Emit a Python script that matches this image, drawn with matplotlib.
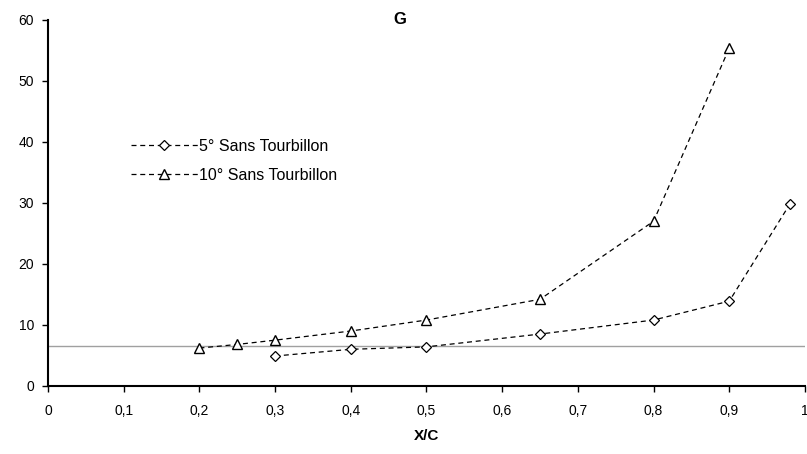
import matplotlib.pyplot as plt

plt.rcParams['font.family'] = ['Liberation Sans', 'DejaVu Sans']

x5 = [0.3, 0.4, 0.5, 0.65, 0.8, 0.9, 0.98]
y5 = [4.9, 6.0, 6.4, 8.5, 10.8, 13.9, 29.8]
x10 = [0.2, 0.25, 0.3, 0.4, 0.5, 0.65, 0.8, 0.9]
y10 = [6.2, 6.8, 7.5, 9.0, 10.8, 14.2, 27.0, 55.4]
ref_level = 6.5
xticks = [0, 0.1, 0.2, 0.3, 0.4, 0.5, 0.6, 0.7, 0.8, 0.9, 1]
xlabels = ["0", "0,1", "0,2", "0,3", "0,4", "0,5", "0,6", "0,7", "0,8", "0,9", "1"]
yticks = [0, 10, 20, 30, 40, 50, 60]

fig = plt.figure(figsize=(8.07, 4.54), dpi=100)
ax = fig.add_axes([0.0595, 0.150, 0.938, 0.806])

ax.axhline(ref_level, color="#a0a0a0", lw=1.0, zorder=1)
ax.plot(x5, y5, ls=(0, (4, 3)), color="black", lw=0.9, marker="D", ms=5,
        mfc="white", mec="black", mew=0.9, label="5° Sans Tourbillon", zorder=3)
ax.plot(x10, y10, ls=(0, (4, 3)), color="black", lw=0.9, marker="^", ms=7,
        mfc="white", mec="black", mew=1.0, label="10° Sans Tourbillon", zorder=3)

ax.set_xlim(0, 1)
ax.set_ylim(0, 60)
ax.set_xticks(xticks)
ax.set_xticklabels(xlabels)
ax.set_yticks(yticks)
ax.tick_params(direction="out", length=4, width=1, labelsize=10)
ax.tick_params(axis="x", pad=9)
ax.tick_params(axis="y", pad=6)
ax.spines["top"].set_visible(False)
ax.spines["right"].set_visible(False)
ax.spines["left"].set_linewidth(1.5)
ax.spines["bottom"].set_linewidth(1.5)

ax.set_xlabel("X/C", fontsize=11, fontweight="bold", labelpad=8)
ax.text(0.465, 1.0, "G", transform=ax.transAxes, ha="center", va="center",
        fontsize=12, fontweight="bold")

ax.legend(loc="upper left", bbox_to_anchor=(0.09, 0.715), frameon=False,
          handlelength=4.2, numpoints=1, fontsize=11.5, labelspacing=0.9,
          handletextpad=0.1)

fig.savefig("out.png", dpi=100)
